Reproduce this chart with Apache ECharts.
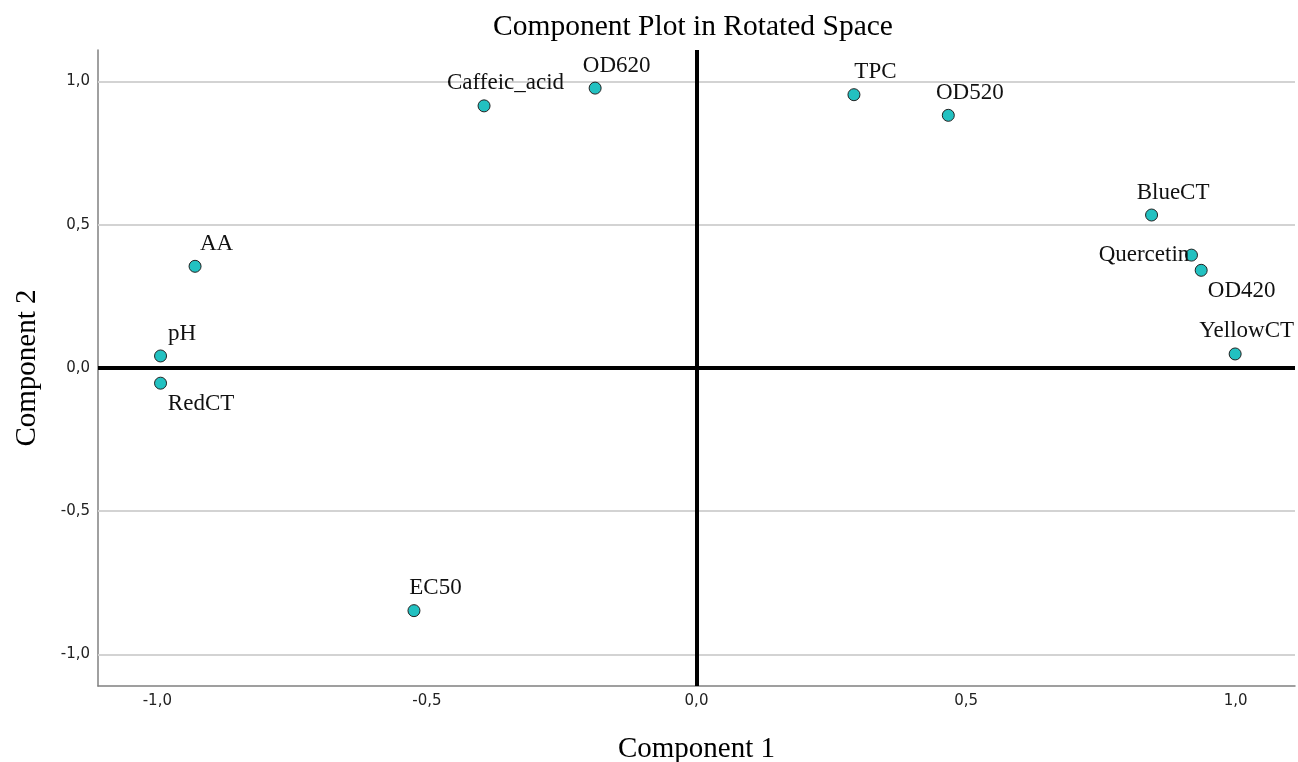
<!DOCTYPE html>
<html>
<head>
    <meta charset="utf-8">
    <title>Component Plot in Rotated Space</title>
    <script src="https://cdn.jsdelivr.net/npm/echarts@6/dist/echarts.min.js"></script>
    <style>
        html, body { margin: 0; padding: 0; background: #fff; }
    </style>
</head>
<body>
    <div id="main" style="width: 1298px; height: 762px;"></div>

    <script>
        // 变量名 + 两个成分载荷
        var varNames = ['Caffeic_acid', 'OD620', 'TPC', 'OD520', 'BlueCT', 'Quercetin',
                        'OD420', 'YellowCT', 'AA', 'pH', 'RedCT', 'EC50'];
        var component1 = [-0.394, -0.188, 0.292, 0.467, 0.844, 0.918,
                          0.936, 0.999, -0.930, -0.994, -0.994, -0.524];
        var component2 = [0.915, 0.977, 0.954, 0.882, 0.534, 0.394,
                          0.341, 0.049, 0.355, 0.042, -0.053, -0.847];
        var tickValues = [-1.0, -0.5, 0.0, 0.5, 1.0];
        var gridValues = [-1.0, -0.5, 0.5, 1.0];

        // 标签中心相对点中心的偏移（默认在右上方）
        var labelOffset = {
            'Quercetin': [-47, 0],
            'OD420': [41, 21],
            'RedCT': [41, 21],
            'YellowCT': [12, -23]
        };

        var serif = '"Liberation Serif", "Times New Roman", serif';
        var symSize = 12;

        function fmt(v) {
            return v.toFixed(1).replace('.', ',');
        }

        var myChart = echarts.init(document.getElementById('main'));

        var points = varNames.map(function (name, i) {
            var off = labelOffset[name] || [22, -22];
            return {
                name: name,
                value: [component1[i], component2[i]],
                // position 是相对符号包围盒左上角的
                label: { position: [symSize / 2 + off[0], symSize / 2 + off[1]] }
            };
        });

        var option = {
            animation: false,
            backgroundColor: '#fff',
            title: {
                text: 'Component Plot in Rotated Space',
                left: 688,
                textAlign: 'center',
                top: 7,
                textStyle: { fontFamily: serif, fontSize: 29.5, fontWeight: 'normal', color: '#000' }
            },
            grid: { left: 98, right: 3, top: 50, bottom: 76, outerBoundsMode: 'none' },
            xAxis: {
                type: 'value',
                min: -1.11,
                max: 1.11,
                name: 'Component 1',
                nameLocation: 'middle',
                nameGap: 49,
                nameTextStyle: { fontFamily: serif, fontSize: 29, color: '#000' },
                axisLine: { onZero: false, lineStyle: { color: '#808080', width: 1.5 } },
                axisTick: { show: false, customValues: tickValues },
                axisLabel: {
                    customValues: tickValues,
                    formatter: fmt,
                    margin: 8,
                    fontFamily: '"DejaVu Sans", sans-serif',
                    fontSize: 15,
                    color: '#222'
                },
                splitLine: { show: false }
            },
            yAxis: {
                type: 'value',
                min: -1.11,
                max: 1.11,
                name: 'Component 2',
                nameLocation: 'middle',
                nameGap: 56,
                nameTextStyle: { fontFamily: serif, fontSize: 29, color: '#000' },
                axisLine: { onZero: false, lineStyle: { color: '#808080', width: 1.5 } },
                axisTick: { show: false, customValues: tickValues },
                axisLabel: {
                    customValues: tickValues,
                    formatter: fmt,
                    margin: 8,
                    fontFamily: '"DejaVu Sans", sans-serif',
                    fontSize: 15,
                    color: '#222'
                },
                splitLine: { show: false }
            },
            series: [
                {
                    // 浅灰网格线
                    name: 'grid',
                    type: 'scatter',
                    data: [],
                    silent: true,
                    markLine: {
                        z: 1,
                        silent: true,
                        symbol: ['none', 'none'],
                        label: { show: false },
                        lineStyle: { color: '#d3d3d3', width: 2, type: 'solid' },
                        data: gridValues.map(function (v) { return { yAxis: v }; })
                    }
                },
                {
                    // 零线
                    name: 'zero',
                    type: 'scatter',
                    data: [],
                    silent: true,
                    markLine: {
                        z: 2,
                        silent: true,
                        symbol: ['none', 'none'],
                        label: { show: false },
                        lineStyle: { color: '#000', width: 4, type: 'solid' },
                        data: [{ xAxis: 0 }, { yAxis: 0 }]
                    }
                },
                {
                    name: 'loadings',
                    type: 'scatter',
                    z: 5,
                    symbol: 'circle',
                    symbolSize: symSize,
                    itemStyle: { color: '#22c1c1', borderColor: '#222', borderWidth: 1, opacity: 1 },
                    label: {
                        show: true,
                        formatter: '{b}',
                        align: 'center',
                        verticalAlign: 'middle',
                        fontFamily: serif,
                        fontSize: 23,
                        color: '#111'
                    },
                    labelLayout: { hideOverlap: false },
                    data: points
                }
            ]
        };

        myChart.setOption(option);
    </script>
</body>
</html>
